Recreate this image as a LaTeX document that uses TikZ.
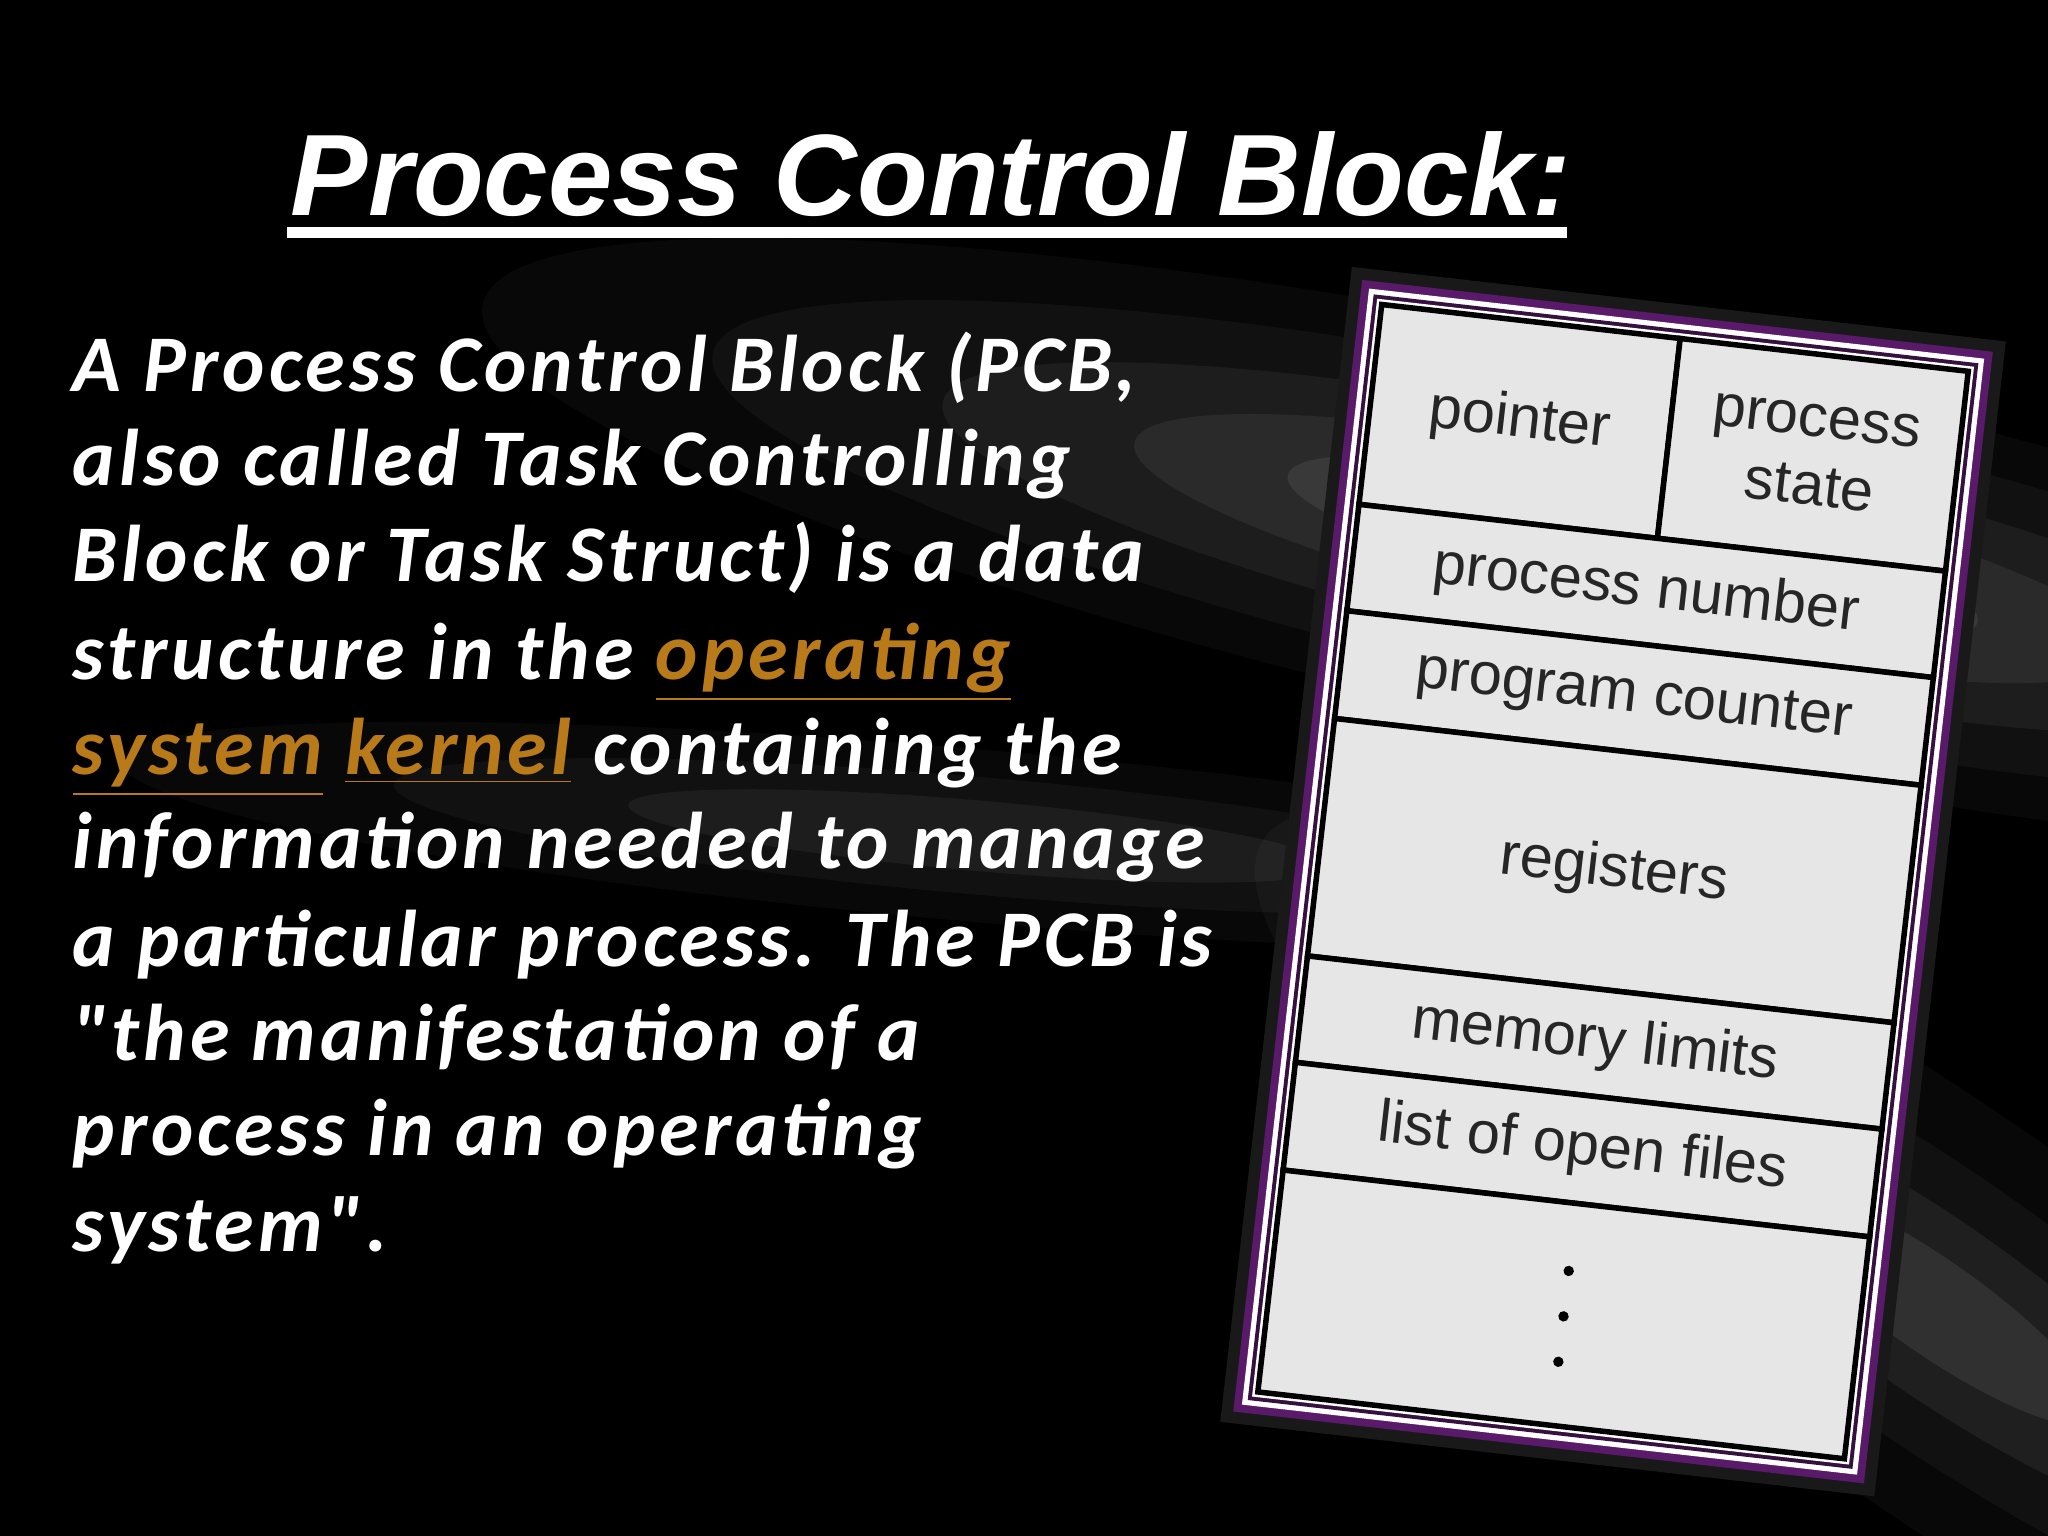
\documentclass[tikz,border=0pt]{standalone}
\usepackage{fontspec}
\setmainfont{Carlito}
\newfontfamily\bodyfont[LetterSpace=5]{Carlito}
\newfontfamily\titlefont{Liberation Sans}
\newfontfamily\boxfont{Liberation Sans}
\definecolor{linkc}{HTML}{B97A1A}
\definecolor{cellc}{HTML}{E6E6E6}
\definecolor{purp}{HTML}{5A1A6A}
\tikzset{
 body/.style={anchor=base west,inner sep=0,text=white,font=\bodyfont\fontsize{17.5pt}{20pt}\selectfont\bfseries\itshape},
 cell/.style={draw=black,line width=1.2pt,fill=cellc},
 ctext/.style={font=\fontsize{13pt}{15pt}\selectfont\boxfont,text=black!85,align=center},
}
\newcommand{\lnk}[1]{\textcolor{linkc}{\underline{#1}}}
\newcommand{\dq}{{\char"22}}
\begin{document}
\begin{tikzpicture}[x=0.01cm,y=-0.01cm]
\useasboundingbox (0,0) rectangle (1568,1176);
\fill[black] (0,0) rectangle (1568,1176);
% background streaks
\begin{scope}
\clip (0,0) rectangle (1568,1176);
\foreach \o/\r in {0.03/300,0.04/240,0.05/180,0.06/130,0.07/90}{
 \fill[white,opacity=\o,rotate around={-12:(1250,420)}] (1250,420) ellipse ({\r*3} and {\r*0.5});
}
\foreach \o/\r in {0.03/250,0.04/170,0.06/110,0.08/60}{
 \fill[white,opacity=\o,rotate around={-35:(1480,1000)}] (1480,1000) ellipse ({\r*2.5} and {\r*0.6});
}
\foreach \o/\r in {0.03/220,0.04/150,0.05/90}{
 \fill[white,opacity=\o,rotate around={-5:(750,640)}] (750,640) ellipse ({\r*3} and {\r*0.3});
}
\end{scope}
% title
\node[anchor=base west,inner sep=0,text=white] (title) at (222,165)
 {\resizebox{9.8cm}{!}{\titlefont\fontsize{33pt}{36pt}\selectfont\bfseries\itshape Process Control Block:}};
\draw[white,line width=2.5pt] (220,178) -- (1200,178);
% body text
\node[body] (l1) at (55,300) {A Process Control Block (PCB,};
\node[body] (l2) at (55,372) {also called Task Controlling};
\node[body] (l3) at (55,445) {Block or Task Struct) is a data};
\node[body] (l4) at (55,520) {structure in the \lnk{operating}};
\node[body] (l5) at (55,593) {\lnk{system} \lnk{kernel} containing the};
\node[body] (l6) at (55,665) {information needed to manage};
\node[body] (l7) at (55,740) {a particular process. The PCB is};
\node[body] (l8) at (55,812) {\dq the manifestation of a};
\node[body] (l9) at (55,885) {process in an operating};
\node[body] (l10) at (55,958) {system\dq.};
% PCB box
\begin{scope}[shift={(1235,675)},rotate=-6.5,transform shape]
\fill[black!90] (-252,-445) rectangle (252,445);
\fill[purp] (-243,-436) rectangle (243,436);
\fill[white] (-237,-430) rectangle (237,430);
\fill[purp!60!black] (-233,-426) rectangle (233,426);
\fill[white] (-230,-423) rectangle (230,423);
\draw[cell] (-226,-419) rectangle (4,-265);
\draw[cell] (4,-419) rectangle (226,-265);
\draw[cell] (-226,-265) rectangle (226,-183);
\draw[cell] (-226,-183) rectangle (226,-100);
\draw[cell] (-226,-100) rectangle (226,83);
\draw[cell] (-226,83) rectangle (226,165);
\draw[cell] (-226,165) rectangle (226,248);
\draw[cell] (-226,248) rectangle (226,419);
\node[ctext] (ptr) at (-111,-342) {pointer};
\node[ctext] (pst) at (115,-342) {process\\state};
\node[ctext] (pn) at (0,-224) {process number};
\node[ctext] (pc) at (0,-141) {program counter};
\node[ctext] (reg) at (0,-8) {registers};
\node[ctext] (ml) at (0,124) {memory limits};
\node[ctext] (lf) at (0,206) {list of open files};
\foreach \yy in {300,335,370} \fill[black] (0,\yy) circle (4);
\end{scope}
\end{tikzpicture}
\end{document}
